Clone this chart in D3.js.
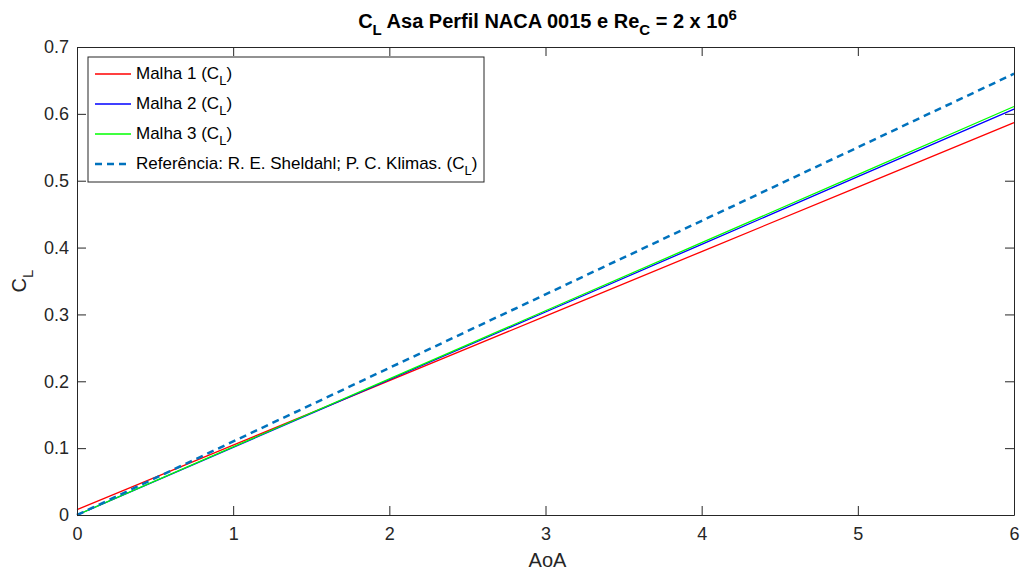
<!DOCTYPE html>
<html>
<head>
<meta charset="utf-8">
<script src="https://cdn.jsdelivr.net/npm/d3@7"></script>
<style>
  body { margin: 0; background: #fff; }
  text { font-family: "Liberation Sans", Arial, sans-serif; }
</style>
</head>
<body>
<script>
// C_L vs AoA, NACA 0015

var width = 1022,
    height = 571;

var aoa = [0, 1, 2, 3, 4, 5, 6];
var malha1 = [0.008, 0.1045, 0.201, 0.2975, 0.394, 0.4905, 0.587];
var malha2 = [0.0, 0.1012, 0.2024, 0.3036, 0.4048, 0.506, 0.607];
var malha3 = [0.0, 0.1018, 0.2037, 0.3055, 0.4073, 0.5092, 0.611];
var referencia = [0.0, 0.11, 0.22, 0.33, 0.44, 0.55, 0.66];

var xTicks = [0, 1, 2, 3, 4, 5, 6];
var yTicks = [0, 0.1, 0.2, 0.3, 0.4, 0.5, 0.6, 0.7];

var series = [
  { name: "Malha 1", values: malha1, color: "#ff0000", width: 1.3, dash: null },
  { name: "Malha 2", values: malha2, color: "#0000ff", width: 1.3, dash: null },
  { name: "Malha 3", values: malha3, color: "#00ff00", width: 1.3, dash: null },
  { name: "Referência: R. E. Sheldahl; P. C. Klimas.", values: referencia, color: "#0072bd", width: 2.5, dash: "7,5" }
];

var margin = { top: 47, right: 8, bottom: 56, left: 77 };

var x = d3.scaleLinear().domain([0, 6]).range([margin.left, width - margin.right]);
var y = d3.scaleLinear().domain([0, 0.7]).range([height - margin.bottom, margin.top]);

var svg = d3.select("body").append("svg")
    .attr("width", width)
    .attr("height", height);

var axisColor = "#262626";

// lines
var line = d3.line()
    .x(function(d, i) { return x(aoa[i]); })
    .y(function(d) { return y(d); });

svg.append("g").selectAll("path")
    .data(series)
  .enter().append("path")
    .attr("d", function(s) { return line(s.values); })
    .attr("fill", "none")
    .attr("stroke", function(s) { return s.color; })
    .attr("stroke-width", function(s) { return s.width; })
    .attr("stroke-dasharray", function(s) { return s.dash; });

// axes, ticks inward on all four sides (matlab box)
function styleAxis(g) {
  g.select(".domain").attr("stroke", axisColor);
  g.selectAll(".tick line").attr("stroke", axisColor);
  g.selectAll(".tick text").attr("fill", axisColor).style("font-size", "18px");
}

svg.append("g")
    .attr("transform", "translate(0," + y(0) + ")")
    .call(d3.axisBottom(x).tickValues(xTicks).tickSizeInner(-9).tickSizeOuter(0).tickPadding(12).tickFormat(d3.format("d")))
    .call(styleAxis);

svg.append("g")
    .attr("transform", "translate(0," + y(0.7) + ")")
    .call(d3.axisTop(x).tickValues(xTicks).tickSizeInner(-9).tickSizeOuter(0).tickFormat(""))
    .call(styleAxis);

svg.append("g")
    .attr("transform", "translate(" + x(0) + ",0)")
    .call(d3.axisLeft(y).tickValues(yTicks).tickSizeInner(-9).tickSizeOuter(0).tickPadding(8).tickFormat(function(d) { return d === 0 ? "0" : d3.format(".1f")(d); }))
    .call(styleAxis);

svg.append("g")
    .attr("transform", "translate(" + x(6) + ",0)")
    .call(d3.axisRight(y).tickValues(yTicks).tickSizeInner(-9).tickSizeOuter(0).tickFormat(""))
    .call(styleAxis);

// title
var title = svg.append("text")
    .attr("x", (x(0) + x(6)) / 2 + 2)
    .attr("y", 28)
    .attr("text-anchor", "middle")
    .attr("fill", "#000")
    .style("font-size", "20px")
    .style("font-weight", "bold");
title.append("tspan").text("C");
title.append("tspan").attr("dy", 7).style("font-size", "15px").text("L");
title.append("tspan").attr("dy", -7).text(" Asa Perfil NACA 0015 e Re");
title.append("tspan").attr("dy", 7).style("font-size", "15px").text("C");
title.append("tspan").attr("dy", -7).text(" = 2 x 10");
title.append("tspan").attr("dy", -8).style("font-size", "15px").text("6");

// axis labels
svg.append("text")
    .attr("x", (x(0) + x(6)) / 2 + 2)
    .attr("y", 567)
    .attr("text-anchor", "middle")
    .attr("fill", axisColor)
    .style("font-size", "20px")
    .text("AoA");

var yl = svg.append("text")
    .attr("transform", "translate(26," + y(0.35) + ") rotate(-90)")
    .attr("text-anchor", "middle")
    .attr("fill", axisColor)
    .style("font-size", "20px");
yl.append("tspan").text("C");
yl.append("tspan").attr("dy", 7).style("font-size", "15px").text("L");

// legend
var legend = svg.append("g").attr("transform", "translate(88,57)");
legend.append("rect")
    .attr("width", 396)
    .attr("height", 125)
    .attr("fill", "#fff")
    .attr("stroke", axisColor)
    .attr("stroke-width", 1);

var item = legend.selectAll("g.item")
    .data(series)
  .enter().append("g")
    .attr("class", "item")
    .attr("transform", function(d, i) { return "translate(0," + (17 + i * 30) + ")"; });

item.append("line")
    .attr("x1", 7).attr("x2", 43)
    .attr("stroke", function(s) { return s.color; })
    .attr("stroke-width", function(s) { return s.width; })
    .attr("stroke-dasharray", function(s) { return s.dash; });

var lt = item.append("text")
    .attr("x", 48)
    .attr("y", 5)
    .attr("fill", "#000")
    .style("font-size", "17px");
lt.append("tspan").text(function(s) { return s.name + " (C"; });
lt.append("tspan").attr("dy", 6).style("font-size", "13px").text("L");
lt.append("tspan").attr("dy", -6).text(")");
</script>
</body>
</html>
